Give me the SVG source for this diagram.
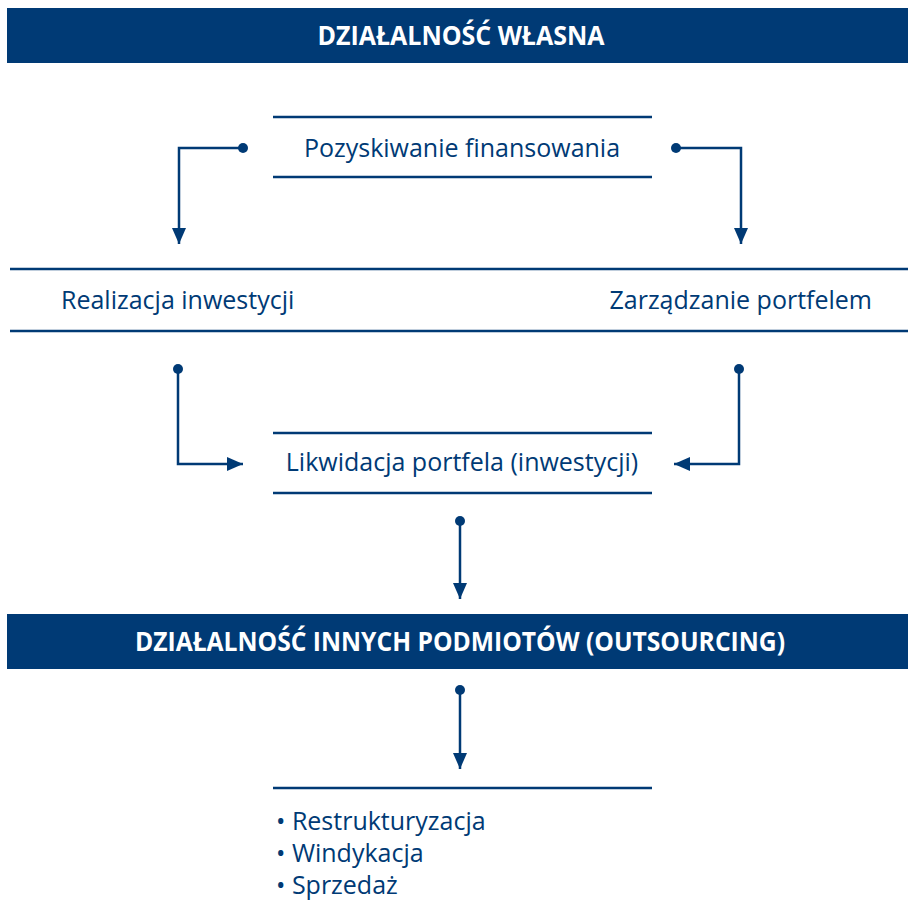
<svg xmlns="http://www.w3.org/2000/svg" width="908" height="920" viewBox="0 0 908 920">
<style>
.band{fill:#003a75}
.hd{font-family:"Open Sans","Liberation Sans",sans-serif;font-weight:bold;font-size:26px;fill:#fff;text-anchor:middle}
.t{font-family:"Open Sans","Liberation Sans",sans-serif;font-size:25px;fill:#003a75}
.rule{stroke:#003a75;stroke-width:2.5}
.c{fill:none;stroke:#003a75;stroke-width:2.5}
.dot{fill:#003a75}
</style>
<defs>
<marker id="ah" viewBox="0 0 16 14" refX="16" refY="7" markerWidth="16" markerHeight="14" markerUnits="userSpaceOnUse" orient="auto">
<path d="M0,0 L16,7 L0,14 Z" fill="#003a75"/>
</marker>
</defs>
<g id="header-own">
<rect class="band" x="7" y="8" width="901" height="55"/>
<text class="hd" x="461" y="45" textLength="287" lengthAdjust="spacingAndGlyphs">DZIAŁALNOŚĆ WŁASNA</text>
</g>
<g id="pozyskiwanie">
<line class="rule" x1="273" y1="117" x2="652" y2="117"/>
<line class="rule" x1="273" y1="177" x2="652" y2="177"/>
<text class="t" x="462" y="157" text-anchor="middle">Pozyskiwanie finansowania</text>
</g>
<g id="realizacja-zarzadzanie">
<line class="rule" x1="10" y1="269" x2="908" y2="269"/>
<line class="rule" x1="10" y1="331" x2="908" y2="331"/>
<text class="t" x="61" y="309">Realizacja inwestycji</text>
<text class="t" x="872" y="309" text-anchor="end">Zarządzanie portfelem</text>
</g>
<g id="likwidacja">
<line class="rule" x1="273" y1="433" x2="652" y2="433"/>
<line class="rule" x1="273" y1="493" x2="652" y2="493"/>
<text class="t" x="462" y="471" text-anchor="middle">Likwidacja portfela (inwestycji)</text>
</g>
<g id="header-outsourcing">
<rect class="band" x="7" y="614" width="901" height="55"/>
<text class="hd" x="460" y="651" textLength="650" lengthAdjust="spacingAndGlyphs">DZIAŁALNOŚĆ INNYCH PODMIOTÓW (OUTSOURCING)</text>
</g>
<g id="outsourcing-list">
<line class="rule" x1="273" y1="788" x2="652" y2="788"/>
<text class="t" x="276" y="830">• Restrukturyzacja</text>
<text class="t" x="276" y="862">• Windykacja</text>
<text class="t" x="276" y="894">• Sprzedaż</text>
</g>
<g id="connectors">
<path class="c" d="M243,148 H179 V244" marker-end="url(#ah)"/>
<circle class="dot" cx="243" cy="148" r="5"/>
<path class="c" d="M676,148 H741 V244" marker-end="url(#ah)"/>
<circle class="dot" cx="676" cy="148" r="5"/>
<path class="c" d="M178,369 V464 H243" marker-end="url(#ah)"/>
<circle class="dot" cx="178" cy="369" r="5"/>
<path class="c" d="M739,369 V464 H674" marker-end="url(#ah)"/>
<circle class="dot" cx="739" cy="369" r="5"/>
<path class="c" d="M460,521 V599" marker-end="url(#ah)"/>
<circle class="dot" cx="460" cy="521" r="5"/>
<path class="c" d="M460,690 V769" marker-end="url(#ah)"/>
<circle class="dot" cx="460" cy="690" r="5"/>
</g>
</svg>
